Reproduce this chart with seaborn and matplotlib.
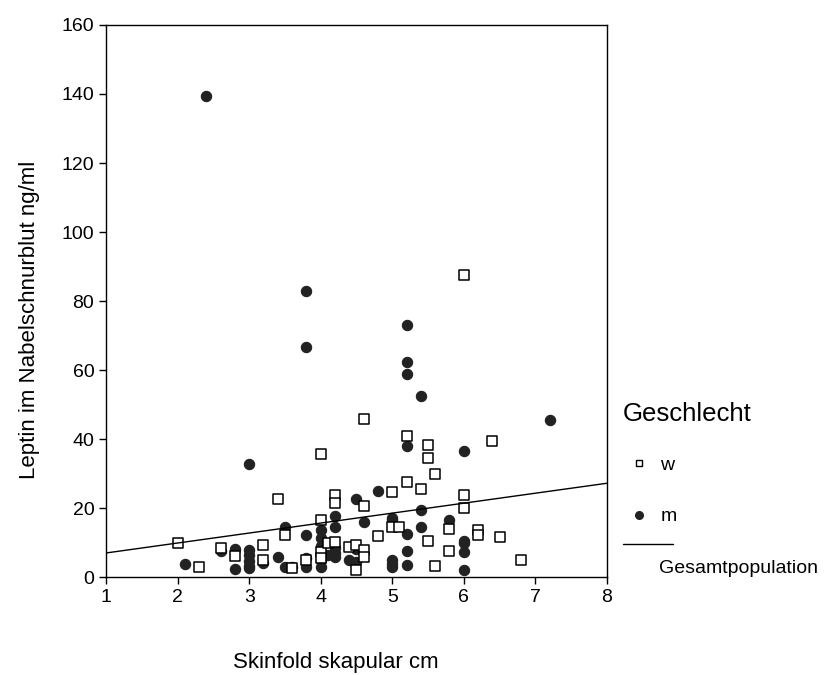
#!/usr/bin/env python
# coding: utf-8

"""
Streudiagramm: Leptin im Nabelschnurblut gegen Skinfold skapular,
getrennt nach Geschlecht, mit Regressionsgerade der Gesamtpopulation
"""

import pandas as pd
import seaborn as sns
import matplotlib.pyplot as plt
from matplotlib.lines import Line2D

# Mädchen (w): Hautfalte skapular in cm / Leptin in ng/ml
w_skinfold = [2.0, 2.3, 2.6, 2.8, 3.2, 3.2, 3.4, 3.5, 3.6, 3.8,
              4.0, 4.0, 4.0, 4.0, 4.1, 4.2, 4.2, 4.2, 4.4, 4.5,
              4.5, 4.6, 4.6, 4.6, 4.6, 4.8, 5.0, 5.0, 5.1, 5.2,
              5.2, 5.4, 5.5, 5.5, 5.5, 5.6, 5.6, 5.8, 5.8, 6.0,
              6.0, 6.0, 6.2, 6.2, 6.4, 6.5, 6.8]
w_leptin = [10.0, 2.8, 8.5, 6.1, 9.3, 4.9, 22.5, 12.2, 2.6, 5.0,
            35.8, 16.5, 7.3, 5.5, 9.8, 23.8, 21.4, 10.2, 8.8, 9.3,
            2.0, 45.7, 20.7, 7.8, 5.9, 11.9, 24.7, 14.6, 14.6, 40.9,
            27.6, 25.5, 38.3, 34.4, 10.5, 29.8, 3.3, 13.9, 7.5, 87.5,
            23.8, 19.9, 13.6, 12.3, 39.5, 11.7, 4.9]

# Jungen (m)
m_skinfold = [2.1, 2.4, 2.6, 2.8, 2.8, 3.0, 3.0, 3.0, 3.0, 3.0,
              3.0, 3.2, 3.4, 3.5, 3.5, 3.6, 3.8, 3.8, 3.8, 3.8,
              3.8, 4.0, 4.0, 4.0, 4.0, 4.0, 4.0, 4.1, 4.2, 4.2,
              4.2, 4.2, 4.2, 4.4, 4.5, 4.5, 4.5, 4.6, 4.8, 5.0,
              5.0, 5.0, 5.0, 5.0, 5.2, 5.2, 5.2, 5.2, 5.2, 5.2,
              5.2, 5.4, 5.4, 5.4, 5.8, 6.0, 6.0, 6.0, 6.0, 6.0,
              7.2]
m_leptin = [3.7, 139.5, 7.6, 8.1, 2.3, 32.8, 7.8, 6.5, 4.6, 3.2,
            2.5, 4.0, 5.7, 14.4, 2.8, 2.8, 82.8, 66.7, 12.3, 5.6,
            2.8, 13.6, 11.3, 9.0, 7.0, 5.0, 3.0, 6.4, 17.6, 14.5,
            8.3, 6.9, 5.9, 4.9, 22.5, 8.2, 4.4, 16.0, 25.1, 17.2,
            16.5, 4.9, 3.8, 3.0, 73.0, 62.2, 59.0, 38.0, 12.6, 7.7,
            3.6, 52.5, 19.4, 14.4, 16.5, 36.6, 10.6, 10.0, 7.2, 2.2,
            45.5]

fit_skinfold = [1, 8]
fit_leptin = [7.0, 27.2]

x_ticks = [1, 2, 3, 4, 5, 6, 7, 8]
y_ticks = [0, 20, 40, 60, 80, 100, 120, 140, 160]

df_w = pd.DataFrame({"skinfold": w_skinfold, "leptin": w_leptin})
df_m = pd.DataFrame({"skinfold": m_skinfold, "leptin": m_leptin})
df_fit = pd.DataFrame({"skinfold": fit_skinfold, "leptin": fit_leptin})

sns.set_style("ticks")
plt.rcParams["font.family"] = ["Liberation Sans", "DejaVu Sans"]
plt.rcParams["text.color"] = "black"
plt.rcParams["axes.labelcolor"] = "black"

fig = plt.figure(figsize=(8.29, 6.75), dpi=100)
ax = fig.add_axes([0.128, 0.145, 0.604, 0.818])

dark = "#222222"
sns.scatterplot(data=df_m, x="skinfold", y="leptin", ax=ax, marker="o", s=55,
                color=dark, edgecolor=dark, linewidth=0.8, zorder=3)
sns.scatterplot(data=df_w, x="skinfold", y="leptin", ax=ax, marker="s", s=52,
                facecolor="white", edgecolor="black", linewidth=1.1, zorder=4)
for coll in ax.collections:
    coll.set_joinstyle("round")
sns.lineplot(data=df_fit, x="skinfold", y="leptin", ax=ax, color="black",
             linewidth=1.0, zorder=5)

ax.set_xlim(1, 8)
ax.set_ylim(0, 160)
ax.set_xticks(x_ticks)
ax.set_yticks(y_ticks)
ax.tick_params(labelsize=14, length=5, width=1, colors="black")
for sp in ax.spines.values():
    sp.set_visible(True)
    sp.set_color("black")
    sp.set_linewidth(1.0)

ax.set_xlabel("Skinfold skapular cm", fontsize=16)
ax.set_ylabel("Leptin im Nabelschnurblut ng/ml", fontsize=16)
ax.xaxis.set_label_coords(0.459, -0.136)
ax.yaxis.set_label_coords(-0.132, 0.466)

# Legende: w / m mit Titel, Linie separat
handles = [
    Line2D([], [], marker="s", linestyle="", markersize=5, markerfacecolor="white",
           markeredgecolor="black", markeredgewidth=1.0),
    Line2D([], [], marker="o", linestyle="", markersize=5.5, markerfacecolor=dark,
           markeredgecolor=dark),
]
leg = ax.legend(handles, ["w", "m"], title="Geschlecht", fontsize=14, title_fontsize=18.5,
                frameon=False, loc="upper left", bbox_to_anchor=(0.751, 0.405),
                bbox_transform=fig.transFigure, alignment="left", borderpad=0,
                handlelength=1.65, handletextpad=0.3, labelspacing=1.75, borderaxespad=0)
leg._legend_box.sep = 22

fig.add_artist(Line2D([0.752, 0.812], [0.194, 0.194], color="black", linewidth=1.0,
                      transform=fig.transFigure))
fig.text(0.795, 0.158, "Gesamtpopulation", fontsize=14, ha="left", va="center")

fig.savefig("out.png", dpi=100, facecolor="white")
